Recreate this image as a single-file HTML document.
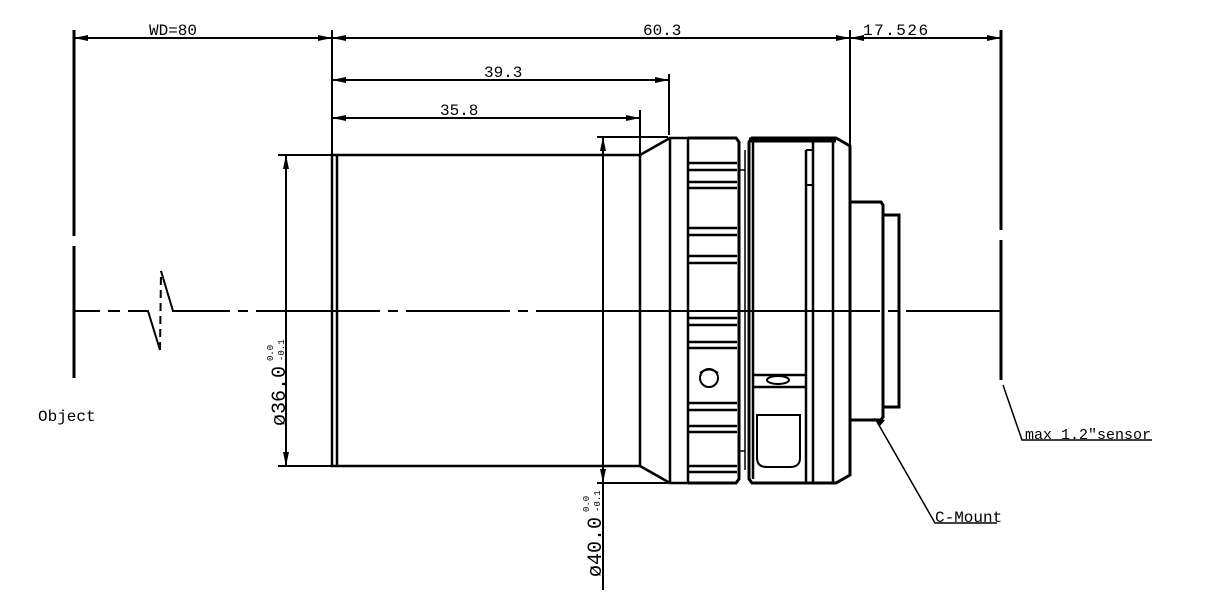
<!DOCTYPE html>
<html><head><meta charset="utf-8"><style>
html,body{margin:0;padding:0;background:#fff;}
svg{display:block;}
text{font-family:"Liberation Mono","Noto Sans CJK SC",monospace;fill:#000;}
</style></head><body>
<svg width="1210" height="611" viewBox="0 0 1210 611" xmlns="http://www.w3.org/2000/svg">
<defs>
<marker id="a" viewBox="0 0 14 6" refX="14" refY="3" markerWidth="14" markerHeight="6" orient="auto-start-reverse" markerUnits="userSpaceOnUse"><path d="M0,0 L14,3 L0,6 z" fill="#000"/></marker>
</defs>
<g stroke="#000" fill="none" stroke-width="2">
<path d="M74,30 V236 M74,246 V378" stroke-width="3"/>
<path d="M332,30 V155 M850,30 V146 M669,74 V135 M640,110 V155"/>
<path d="M1001,30 V230 M1001,240 V380" stroke-width="3"/>
<line x1="74" y1="38" x2="332" y2="38" marker-start="url(#a)" marker-end="url(#a)"/>
<line x1="332" y1="38" x2="850" y2="38" marker-start="url(#a)" marker-end="url(#a)"/>
<line x1="850" y1="38" x2="1001" y2="38" marker-start="url(#a)" marker-end="url(#a)"/>
<line x1="332" y1="80" x2="669" y2="80" marker-start="url(#a)" marker-end="url(#a)"/>
<line x1="332" y1="118" x2="640" y2="118" marker-start="url(#a)" marker-end="url(#a)"/>
<path d="M74,311 H100 M108,311 H120 M128,311 H148 L160,350 M161,271 L173,311 H230 M238,311 H248 M256,311 H380 M388,311 H398 M406,311 H510 M518,311 H528 M536,311 H880 M888,311 H898 M906,311 H1001"/>
<path d="M160,350 L161,271" stroke-dasharray="8,5"/>
<path d="M278,155 H332 M278,466 H332"/>
<line x1="286" y1="155" x2="286" y2="466" marker-start="url(#a)" marker-end="url(#a)"/>
<path d="M597,137 H668 M597,483 H668"/>
<line x1="603" y1="137" x2="603" y2="483" marker-start="url(#a)" marker-end="url(#a)"/>
<line x1="603" y1="483" x2="603" y2="590"/>
<path d="M332,155 H640 V466 H332 Z M337,155 V466" stroke-width="2.5"/>
<path d="M640,155 L670,138 M640,466 L670,483" stroke-width="2.5"/>
<rect x="670" y="138" width="18" height="345" stroke-width="2.5"/>
<path d="M688,138 H736 L739,142 V479 L736,483 H688" stroke-width="3"/>
<path d="M739,170 H745 M739,451 H745 M745,150 V470" stroke-width="1.5"/>
<g stroke-width="2.5">
<path d="M688,163 H737 M688,170 H737 M688,182 H737 M688,188 H737 M688,228 H737 M688,235 H737 M688,256 H737 M688,263 H737 M688,318 H737 M688,325 H737 M688,342 H737 M688,348 H737 M688,403 H737 M688,410 H737 M688,426 H737 M688,432 H737 M688,466 H737 M688,472 H737"/>
</g>
<circle cx="709" cy="378" r="9"/>
<path d="M700,373 Q709,366 718,373"/>
<path d="M749,142 L752,138 H836 L850,146 V475 L836,483 H752 L749,479 Z" stroke-width="3"/>
<path d="M749,140 H836" stroke-width="5"/>
<path d="M753,142 V479 M806,150 V483 M813,142 V483 M833,142 V483" stroke-width="2.5"/>
<path d="M806,150 H813 M806,185 H813"/>
<path d="M753,375 H806 M753,387 H806" stroke-width="2.5"/>
<ellipse cx="778" cy="380" rx="11" ry="4"/>
<path d="M757,415 H800 V458 Q800,467 790,467 H767 Q757,467 757,458 Z" stroke-width="2"/>
<path d="M850,202 H881 L883,205 V417 L881,420 H850" stroke-width="3"/>
<rect x="883" y="215" width="16" height="192" stroke-width="3"/>
<path d="M876,420 L935,523 H997" stroke-width="1.5"/>
<path d="M880,426 L874,418 L885,420 Z" fill="#000" stroke="none"/>
<path d="M1003,385 L1022,440 H1152" stroke-width="1.5"/>
</g>
<g font-size="16">
<text x="149" y="35">WD=80</text>
<text x="643" y="35">60.3</text>
<text x="863" y="35" letter-spacing="1.5">17.526</text>
<text x="484" y="77">39.3</text>
<text x="440" y="115">35.8</text>
<text x="38" y="421">Object</text>
<text x="935" y="522">C-Mount</text>
<text x="1025" y="439" font-size="15">max 1.2″sensor</text>
<text transform="translate(285,426) rotate(-90)" font-size="20">ø36.0</text>
<text transform="translate(273,361) rotate(-90)" font-size="9">0.0</text>
<text transform="translate(284,361) rotate(-90)" font-size="9">-0.1</text>
<text transform="translate(601,577) rotate(-90)" font-size="20">ø40.0</text>
<text transform="translate(589,512) rotate(-90)" font-size="9">0.0</text>
<text transform="translate(600,512) rotate(-90)" font-size="9">-0.1</text>
</g>
</svg>
</body></html>
